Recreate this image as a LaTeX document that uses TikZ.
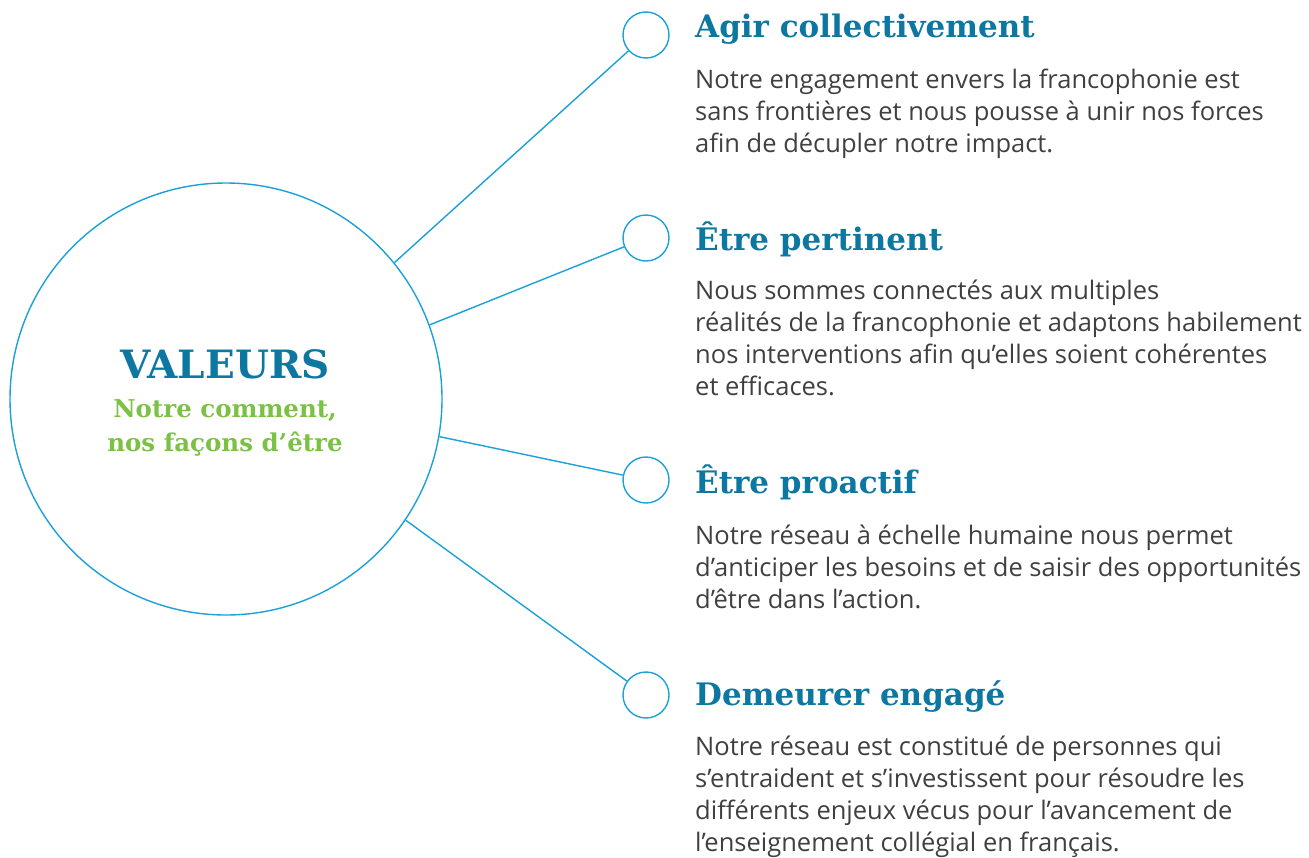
\documentclass[tikz,border=0pt]{standalone}
\usepackage{fontspec}
\setmainfont{Open Sans}
\newfontfamily\slab{DejaVu Serif}
\definecolor{headblue}{HTML}{0C77A1}
\definecolor{ringblue}{HTML}{1BA0D8}
\definecolor{valgreen}{HTML}{7BC143}
\definecolor{bodygray}{HTML}{404040}
\tikzset{
  ring/.style={circle,draw=ringblue,line width=1.4pt,inner sep=0pt},
  link/.style={draw=ringblue,line width=1.4pt},
  heading/.style={anchor=base west,inner sep=0pt,text=headblue,font=\slab\bfseries\fontsize{31}{36}\selectfont},
  bodytext/.style={anchor=base west,inner sep=0pt,text=bodygray,align=left,font=\fontsize{25.5}{32}\selectfont},
}
\begin{document}
\begin{tikzpicture}[x=1pt,y=-1pt]
\useasboundingbox (0,0) rectangle (1309,857);
\node[ring,minimum size=432pt] (big) at (226,399) {};
\node[anchor=base,inner sep=0pt,text=headblue,font=\slab\bfseries\fontsize{39}{46}\selectfont] (val) at (225,378) {VALEURS};
\node[anchor=base,inner sep=0pt,text=valgreen,align=center,font=\slab\bfseries\fontsize{24.5}{34}\selectfont] (sub) at (225,451) {Notre comment,\\nos façons d’être};
\node[ring,minimum size=46pt] (s1) at (646,35) {};
\node[ring,minimum size=46pt] (s2) at (646,238) {};
\node[ring,minimum size=46pt] (s3) at (646,480) {};
\node[ring,minimum size=46pt] (s4) at (646,695) {};
\draw[link] (big.39.5) -- (s1);
\draw[link] (big.20.4) -- (s2);
\draw[link] (big.-10.4) -- (s3);
\draw[link] (big.-34.4) -- (s4);
\node[heading] (h1) at (695,37) {Agir collectivement};
\node[bodytext] (b1) at (695,152) {Notre engagement envers la francophonie est\\sans frontières et nous pousse à unir nos forces\\afin de décupler notre impact.};
\node[heading] (h2) at (695,250) {Être pertinent};
\node[bodytext] (b2) at (695,395) {Nous sommes connectés aux multiples\\réalités de la francophonie et adaptons habilement\\nos interventions afin qu’elles soient cohérentes\\et efficaces.};
\node[heading] (h3) at (695,493) {Être proactif};
\node[bodytext] (b3) at (695,608) {Notre réseau à échelle humaine nous permet\\d’anticiper les besoins et de saisir des opportunités\\d’être dans l’action.};
\node[heading] (h4) at (695,705) {Demeurer engagé};
\node[bodytext] (b4) at (695,851) {Notre réseau est constitué de personnes qui\\s’entraident et s’investissent pour résoudre les\\différents enjeux vécus pour l’avancement de\\l’enseignement collégial en français.};
\end{tikzpicture}
\end{document}
